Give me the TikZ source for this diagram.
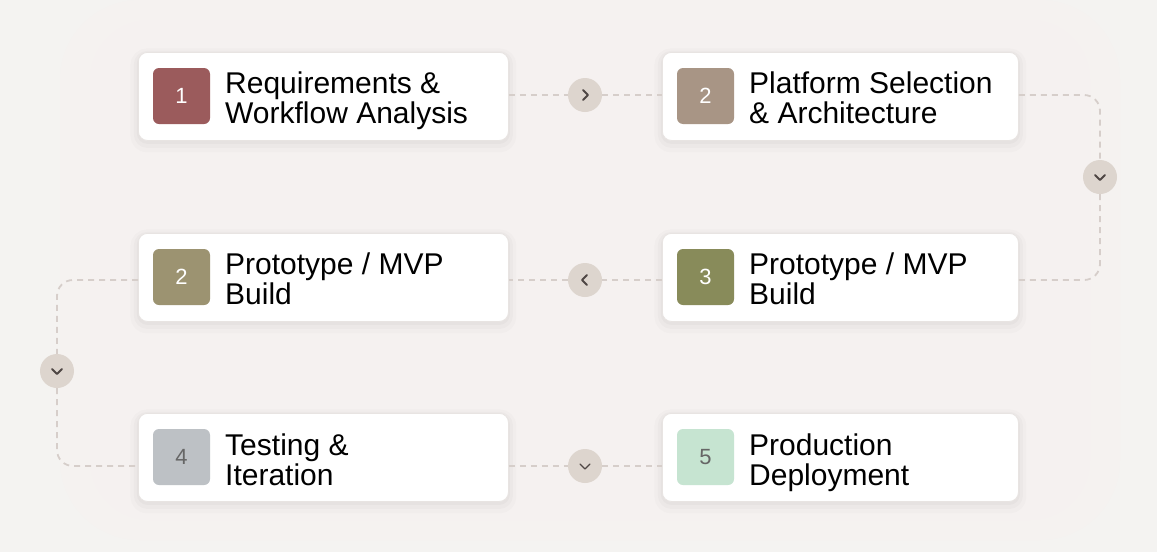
\documentclass[tikz,border=0pt]{standalone}
\usepackage{fontspec}
\setmainfont{Liberation Sans}
\definecolor{bg}{HTML}{F4F3F1}
\definecolor{bgpink}{HTML}{F8F1F0}
\definecolor{dashc}{HTML}{D6CECA}
\definecolor{knob}{HTML}{DDD5CE}
\definecolor{chev}{HTML}{4E4644}
\definecolor{cardline}{HTML}{E8E4E2}
\definecolor{ia}{HTML}{9B5B5C}
\definecolor{ib}{HTML}{A89585}
\definecolor{ic}{HTML}{9C9371}
\definecolor{id}{HTML}{888B5A}
\definecolor{ie}{HTML}{BDC1C5}
\definecolor{if}{HTML}{C6E4D1}
\tikzset{
  card/.style={anchor=north west, minimum height=88pt, rounded corners=9pt, fill=white,
    draw=cardline, line width=0.8pt, inner sep=0pt,
    preaction={draw=black, draw opacity=0.015, line width=16pt, transform canvas={yshift=-4pt}},
    preaction={draw=black, draw opacity=0.02, line width=9pt, transform canvas={yshift=-3pt}},
    preaction={draw=black, draw opacity=0.025, line width=3pt, transform canvas={yshift=-2pt}}},
  icon/.style={minimum width=57pt, minimum height=56pt, rounded corners=6pt, inner sep=0pt,
    text=white, font=\fontsize{22}{22}\selectfont},
  lbl/.style={anchor=base west, align=left, inner sep=0pt, text=black,
    font=\fontsize{30}{30}\selectfont},
  knobc/.style={circle, fill=knob, minimum size=34pt, inner sep=0pt},
  link/.style={draw=dashc, line width=1.8pt, dash pattern=on 6pt off 5pt},
  chevs/.style={draw=chev, line width=1.8pt, line cap=round, line join=round},
}
\begin{document}
\begin{tikzpicture}[x=1pt,y=-1pt]
\useasboundingbox (0,0) rectangle (1157,552);
\fill[bg] (0,0) rectangle (1157,552);
\fill[bgpink, opacity=0.3, rounded corners=80pt] (60,0) rectangle (1120,540);
\fill[bgpink, opacity=0.3, rounded corners=60pt] (90,20) rectangle (1090,520);
% cards
\node[card, minimum width=370pt] (c1) at (138,52) {};
\node[card, minimum width=356pt] (c2) at (662,52) {};
\node[card, minimum width=370pt] (c3) at (138,233) {};
\node[card, minimum width=356pt] (c4) at (662,233) {};
\node[card, minimum width=370pt] (c5) at (138,413) {};
\node[card, minimum width=356pt] (c6) at (662,413) {};
% knobs
\node[knobc] (k1) at (585,95) {};
\node[knobc] (k2) at (1100,177) {};
\node[knobc] (k3) at (585,280) {};
\node[knobc] (k4) at (57,371) {};
\node[knobc] (k5) at (585,466) {};
% connectors
\draw[link] (c1.east |- k1) -- (k1.west);
\draw[link] (k1.east) -- (c2.west |- k1);
\draw[link, rounded corners=16pt] (c2.east |- k1) -| (k2.north);
\draw[link, rounded corners=16pt] (k2.south) |- (c4.east |- k3);
\draw[link] (c4.west |- k3) -- (k3.east);
\draw[link] (k3.west) -- (c3.east |- k3);
\draw[link, rounded corners=16pt] (c3.west |- k3) -| (k4.north);
\draw[link, rounded corners=16pt] (k4.south) |- (c5.west |- k5);
\draw[link] (c5.east |- k5) -- (k5.west);
\draw[link] (k5.east) -- (c6.west |- k5);
% chevrons
\draw[chevs] ([shift={(-2,-5)}]k1.center) -- ++(5,5) -- ++(-5,5);
\draw[chevs] ([shift={(-5,-2)}]k2.center) -- ++(5,5) -- ++(5,-5);
\draw[chevs] ([shift={(2,-5)}]k3.center) -- ++(-5,5) -- ++(5,5);
\draw[chevs] ([shift={(-5,-2)}]k4.center) -- ++(5,5) -- ++(5,-5);
\draw[chevs, line width=1.3pt] ([shift={(-5,-2)}]k5.center) -- ++(5,5) -- ++(5,-5);
% icons
\node[icon, fill=ia] (i1) at (181.5,96) {1};
\node[icon, fill=ib] (i2) at (705.5,96) {2};
\node[icon, fill=ic] (i3) at (181.5,277) {2};
\node[icon, fill=id] (i4) at (705.5,277) {3};
\node[icon, fill=ie, text=black!60] (i5) at (181.5,457) {4};
\node[icon, fill=if, text=black!60] (i6) at (705.5,457) {5};
% labels
\node[lbl] (t1) at (225,123) {Requirements \&\\Workflow Analysis};
\node[lbl] (t2) at (749,123) {Platform Selection\\\& Architecture};
\node[lbl] (t3) at (225,304) {Prototype / MVP\\Build};
\node[lbl] (t4) at (749,304) {Prototype / MVP\\Build};
\node[lbl] (t5) at (225,485) {Testing \&\\Iteration};
\node[lbl] (t6) at (749,485) {Production\\Deployment};
\end{tikzpicture}
\end{document}
